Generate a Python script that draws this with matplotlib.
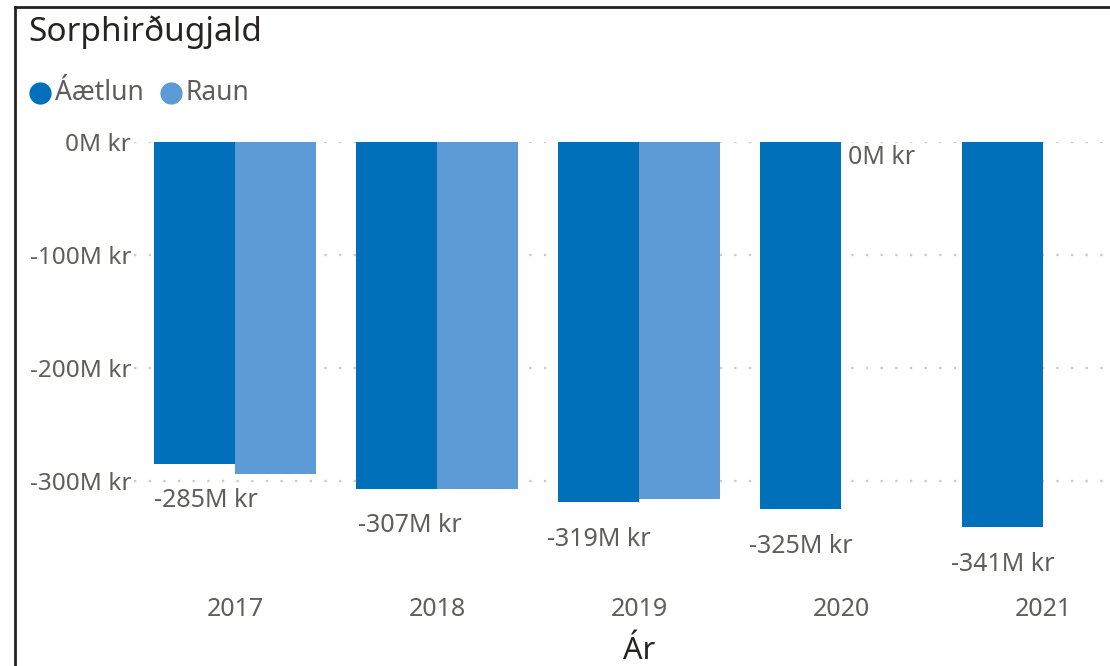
import numpy as np
import matplotlib.pyplot as plt
from matplotlib.lines import Line2D

# data (millions of kr)
years = ["2017", "2018", "2019", "2020", "2021"]
aaetlun = [-285, -307, -319, -325, -341]
raun = [-294, -307, -316, 0, 0]
aaetlun_labels = ["-285M kr", "-307M kr", "-319M kr", "-325M kr", "-341M kr"]
raun_labels = [None, None, None, "0M kr", None]
y_ticks = [0, -100, -200, -300]
y_ticklabels = ["0M kr", "-100M kr", "-200M kr", "-300M kr"]

c_plan = "#0070BB"
c_real = "#5C9BD6"
grey = "#605E5C"
dark = "#252423"

plt.rcParams['font.family'] = ['Noto Sans', 'DejaVu Sans']

W, H = 1110, 666
fig = plt.figure(figsize=(W / 100, H / 100), dpi=100)

# plot area in pixels (extends past right edge like the cropped original)
left, right, top, bottom = 134, 1144, 142, 560
ax = fig.add_axes([left / W, 1 - bottom / H, (right - left) / W, (bottom - top) / H])

x = np.arange(len(years))
bw = 0.4
ax.bar(x - bw / 2, aaetlun, bw, color=c_plan, zorder=3)
ax.bar(x + bw / 2, raun, bw, color=c_real, zorder=3)

ax.set_xlim(-0.5, len(years) - 0.5)
ax.set_ylim(-370, 0)

for sp in ax.spines.values():
    sp.set_visible(False)

ax.set_yticks(y_ticks)
ax.set_yticklabels(y_ticklabels)
ax.yaxis.grid(True, color="#CDCBC9", linestyle=(0, (1, 5.2)), linewidth=1.7, zorder=0)
ax.tick_params(axis='y', length=0, pad=2, labelsize=17.5, labelcolor=grey)
ax.set_xticks(x)
ax.set_xticklabels(years)
ax.tick_params(axis='x', length=0, pad=27, labelsize=18, labelcolor=grey)
ax.set_xlabel("Ár", fontsize=22, color=dark, labelpad=10)

# data labels (first two nudged right like the original)
nudge = [11, 13, 0, 0, 0]
for xi, v, lab, dx in zip(x, aaetlun, aaetlun_labels, nudge):
    ax.annotate(lab, (xi - bw / 2, v), xytext=(dx, -37), textcoords="offset pixels",
                ha="center", va="center", fontsize=18, color=grey)
for xi, v, lab in zip(x, raun, raun_labels):
    if lab:
        ax.annotate(lab, (xi + bw / 2, v), xytext=(0, -15), textcoords="offset pixels",
                    ha="center", va="center", fontsize=18, color=grey)

# title and legend
fig.text(28 / W, 1 - 32 / H, "Sorphirðugjald", fontsize=24, color=dark, va="center", ha="left")
fig.add_artist(Line2D([40 / W], [1 - 93 / H], marker="o", markersize=15, color=c_plan, linestyle=""))
fig.text(55 / W, 1 - 93 / H, "Áætlun", fontsize=19, color=grey, va="center", ha="left")
fig.add_artist(Line2D([171 / W], [1 - 93 / H], marker="o", markersize=15, color=c_real, linestyle=""))
fig.text(186 / W, 1 - 93 / H, "Raun", fontsize=19, color=grey, va="center", ha="left")

# visual border (top and left only, the rest is cropped)
fig.add_artist(Line2D([15 / W, 15 / W], [0, 1 - 7 / H], color="#222222", linewidth=2))
fig.add_artist(Line2D([15 / W, 1], [1 - 7 / H, 1 - 7 / H], color="#222222", linewidth=2))

fig.savefig("out.png", dpi=100)
